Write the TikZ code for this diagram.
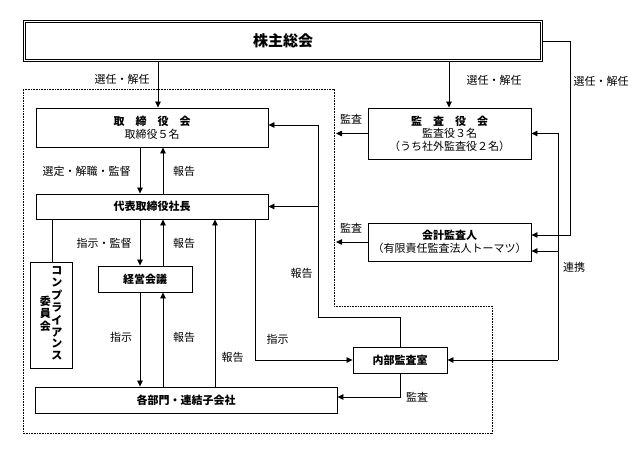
\documentclass[tikz,border=0pt]{standalone}
\usepackage{fontspec}
\setmainfont{Noto Sans CJK JP}
\usetikzlibrary{arrows.meta,calc}
\begin{document}
\begin{tikzpicture}[x=1pt,y=-1pt,
  box/.style={draw, line width=0.9pt, inner sep=0pt, align=center, font=\fontsize{11}{12.5}\selectfont},
  lbl/.style={inner sep=0pt, font=\fontsize{11}{12}\selectfont},
  ln/.style={line width=0.8pt},
  arr/.style={line width=0.8pt, -{Triangle[length=6pt,width=5.5pt]}}]
\useasboundingbox (0,0) rectangle (644,449);
\fill[white] (0,0) rectangle (644,449);

% dotted frame
\draw[line width=0.7pt, dash pattern=on 0.8pt off 0.8pt] (23,89) -- (334,89) -- (334,306) -- (492,306) -- (492,433) -- (23,433) -- cycle;

% nodes
\node[box, double, double distance=1.8pt, line width=0.7pt, minimum width=517pt, minimum height=39pt, font=\fontsize{15}{16}\selectfont\bfseries] (top) at (283,41) {株主総会};
\node[box, minimum width=232pt, minimum height=39pt] (tori) at (152,127.5) {{\bfseries 取　締　役　会}\\取締役５名};
\node[box, minimum width=232pt, minimum height=25pt, font=\fontsize{11}{12.5}\selectfont\bfseries] (daihyo) at (152,206.5) {代表取締役社長};
\node[box, minimum width=42pt, minimum height=106pt, font=\fontsize{11}{11.3}\selectfont\bfseries] (comp) at (51,315) {\begin{tabular}[c]{@{}c@{}}委\\員\\会\end{tabular}\hspace{0.5pt}\begin{tabular}[c]{@{}c@{}}コ\\ン\\プ\\ラ\\イ\\ア\\ン\\ス\end{tabular}};
\node[box, minimum width=94pt, minimum height=26pt, font=\fontsize{11}{12.5}\selectfont\bfseries] (keiei) at (145,279) {経営会議};
\node[box, minimum width=302pt, minimum height=26pt, font=\fontsize{11}{12.5}\selectfont\bfseries] (kakubu) at (186,400) {各部門・連結子会社};
\node[box, minimum width=94pt, minimum height=26pt, font=\fontsize{11}{12.5}\selectfont\bfseries] (naibu) at (400,360) {内部監査室};
\node[box, minimum width=163pt, minimum height=51pt] (kansa) at (449.5,133.5) {{\bfseries 監　査　役　会}\\監査役３名\\（うち社外監査役２名）};
\node[box, minimum width=163pt, minimum height=38pt] (kaikei) at (449.5,242) {{\bfseries 会計監査人}\\（有限責任監査法人トーマツ）};

% helper coordinates
\coordinate (c52) at (52,0);
\coordinate (c140) at (140,0);
\coordinate (c158) at (158,0);
\coordinate (c163) at (163,0);
\coordinate (c215) at (215,0);
\coordinate (c255) at (255,0);
\coordinate (c449) at (449,0);
\coordinate (f336) at (336,0);
\coordinate (r558) at (558,0);
\coordinate (r570) at (570,0);
\coordinate (bend) at (318,317);
\coordinate (k235) at ([yshift=7pt]kaikei.east);
\coordinate (k251) at ([yshift=-9pt]kaikei.east);
\coordinate (t125) at ([yshift=2.5pt]tori.east);
\coordinate (b397) at ([yshift=3pt]kakubu.east);

% connectors
\draw[arr] (top.south -| c158) -- (tori.north -| c158);
\draw[arr] (top.south -| c449) -- (kansa.north -| c449);
\draw[arr] (top.east) -| (k235 -| r570) -- (k235);

\draw[arr] (tori.south -| c140) -- (daihyo.north -| c140);
\draw[arr] (daihyo.north -| c163) -- (tori.south -| c163);
\draw[arr] (daihyo.south -| c140) -- (keiei.north -| c140);
\draw[arr] (keiei.north -| c163) -- (daihyo.south -| c163);
\draw[arr] (keiei.south -| c140) -- (kakubu.north -| c140);
\draw[arr] (kakubu.north -| c163) -- (keiei.south -| c163);
\draw[arr] (kakubu.north -| c215) -- (daihyo.south -| c215);
\draw[arr] (daihyo.south -| c255) |- (naibu.west);
\draw[ln] (daihyo.south -| c52) -- (comp.north -| c52);

\draw[arr] (naibu.north) |- (bend) |- (t125);
\draw[arr] (bend |- daihyo.east) -- (daihyo.east);
\draw[arr] (naibu.south) |- (b397);

\draw[arr] (kansa.west) -- (kansa.west -| f336);
\draw[arr] (kaikei.west) -- (kaikei.west -| f336);

\draw[ln] (r558 |- kansa.east) -- (r558 |- naibu.east);
\draw[arr] (r558 |- kansa.east) -- (kansa.east);
\draw[arr] (r558 |- k251) -- (k251);
\draw[arr] (r558 |- naibu.east) -- (naibu.east);

% labels
\node[lbl] (l1) at (122,79) {選任・解任};
\node[lbl] (l2) at (494,80) {選任・解任};
\node[lbl] (l3) at (601,81) {選任・解任};
\node[lbl] (l4) at (351,119) {監査};
\node[lbl] (l5) at (351,228) {監査};
\node[lbl] (l6) at (86.5,171) {選定・解職・監督};
\node[lbl] (l7) at (184,171) {報告};
\node[lbl] (l8) at (104,243) {指示・監督};
\node[lbl] (l9) at (184,243) {報告};
\node[lbl] (l10) at (121,337) {指示};
\node[lbl] (l11) at (184,337) {報告};
\node[lbl] (l12) at (232.5,357) {報告};
\node[lbl] (l13) at (277.5,339) {指示};
\node[lbl] (l14) at (301.5,273) {報告};
\node[lbl] (l15) at (574,267) {連携};
\node[lbl] (l16) at (417,397) {監査};
\end{tikzpicture}
\end{document}
